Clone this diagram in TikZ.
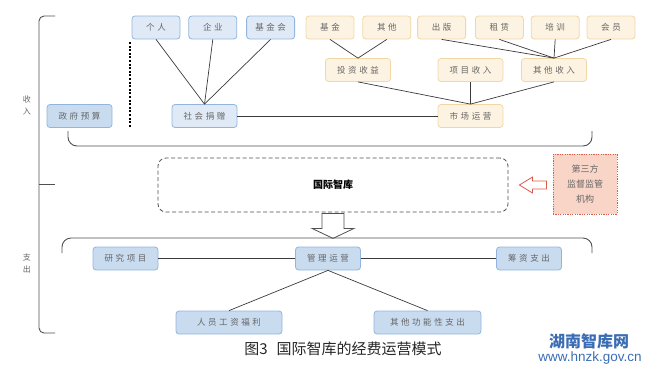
\documentclass[tikz,border=0pt]{standalone}
\usepackage{fontspec}
\setmainfont{Noto Sans CJK SC}
\newfontfamily\boxfont[LetterSpace=30]{Noto Sans CJK SC}
\newfontfamily\urlfont{Liberation Sans}
\usetikzlibrary{positioning,calc}

\definecolor{bluelight}{HTML}{DFEAF6}
\definecolor{bluemid}{HTML}{C8DBEF}
\definecolor{blueline}{HTML}{93B5DC}
\definecolor{orangefill}{HTML}{FDF3E2}
\definecolor{orangeline}{HTML}{F0D8A6}
\definecolor{redfill}{HTML}{F9D5C7}
\definecolor{redline}{HTML}{DD5A4A}
\definecolor{textgray}{HTML}{666666}
\definecolor{linegray}{HTML}{3A3A3A}
\definecolor{bracegray}{HTML}{505050}
\definecolor{markblue}{HTML}{3A6DB3}

\begin{document}
\begin{tikzpicture}[x=1pt, y=-1pt,
  ibox/.style={draw=blueline, fill=bluelight, rounded corners=3pt, minimum width=48pt, minimum height=23pt, inner sep=1pt, line width=0.8pt, text=textgray, font=\boxfont\fontsize{8.5}{10}\selectfont},
  ebox/.style={ibox, fill=bluemid},
  obox/.style={ibox, draw=orangeline, fill=orangefill},
  wide/.style={minimum width=65pt},
  link/.style={draw=linegray, line width=0.7pt},
  brace/.style={draw=bracegray, line width=0.9pt, rounded corners=9pt},
  hollow/.style={line width=0.8pt, fill=white, line join=miter},
  side/.style={text=textgray, align=center, font=\fontsize{8}{12}\selectfont},
]
\useasboundingbox (0,0) rectangle (650,368);

% income
\node[ibox] (geren) at (156,27.5) {个人};
\node[ibox, right=8pt of geren] (qiye) {企业};
\node[ibox, right=9pt of qiye] (jjh) {基金会};
\node[obox] (jijin) at (330,27.5) {基金};
\node[obox, right=8pt of jijin] (qita) {其他};
\node[obox, right=6pt of qita] (chuban) {出版};
\node[obox, right=9pt of chuban] (zulin) {租赁};
\node[obox, right=7pt of zulin] (peixun) {培训};
\node[obox, right=7pt of peixun] (huiyuan) {会员};
\node[obox, wide] (touzi) at (358,70) {投资收益};
\node[obox, wide] (xiangmu) at (470.5,70) {项目收入};
\node[obox, wide] (qitasr) at (554,70) {其他收入};
\node[obox, wide] (shichang) at (470.5,116) {市场运营};
\node[ibox, wide] (shehui) at (204.5,116) {社会捐赠};
\node[ebox, wide] (zhengfu) at (79.5,116) {政府预算};

\foreach \n in {geren,qiye,jjh} \draw[link] (\n.south) -- (shehui.north);
\foreach \n in {jijin,qita} \draw[link] (\n.south) -- (touzi.north);
\foreach \n in {chuban,zulin,peixun,huiyuan} \draw[link] (\n.south) -- (qitasr.north);
\foreach \n in {touzi,xiangmu,qitasr} \draw[link] (\n.south) -- (shichang.north);
\draw[link] (shehui) -- (shichang);
\draw[black, line width=1.1pt, dash pattern=on 2pt off 1.6pt] (130,42) -- (130,128);

\draw[brace] (68,131) |- (330,146) -| (592,131);

% think tank
\node[draw=bracegray, line width=0.8pt, dash pattern=on 4pt off 2.5pt, rounded corners=8pt, minimum width=350pt, minimum height=54pt, font=\bfseries\fontsize{10}{12}\selectfont] (zhiku) at (333,185) {国际智库};
\node[draw=redline, fill=redfill, line width=0.9pt, dash pattern=on 1.2pt off 1.2pt, minimum width=64pt, minimum height=60pt, inner sep=1pt, side, font=\fontsize{9}{15}\selectfont] (jiandu) at (585,184) {第三方\\监督监管\\机构};

\draw[hollow, draw=redline] ($(jiandu.west)+(-6,-3)$) -- ++(-14,0) -- ++(0,-4) -- ($(zhiku.east)+(11,0)$)
  -- ($(jiandu.west)+(-20,9)$) -- ++(0,-4) -- ++(14,0) -- cycle;
\draw[hollow, draw=bracegray] ($(zhiku.south)+(-11,1)$) -- ++(0,15) -- ++(-10,0) -- ($(zhiku.south)+(0,26)$)
  -- ($(zhiku.south)+(21,16)$) -- ++(-10,0) -- ++(0,-15) -- cycle;

% expenditure
\draw[brace] (62,253) |- (330,238) -| (592,253);

\node[ebox, wide] (yanjiu) at (125.5,258.5) {研究项目};
\node[ebox, wide] (guanli) at (328,258.5) {管理运营};
\node[ebox, wide] (chouzi) at (529,258.5) {筹资支出};
\node[ebox, minimum width=106pt] (renyuan) at (229,322.5) {人员工资福利};
\node[ebox, minimum width=107pt] (gongneng) at (427.5,322.5) {其他功能性支出};

\draw[link] (yanjiu) -- (guanli);
\draw[link] (guanli) -- (chouzi);
\draw[link] (guanli.south) -- (renyuan.north);
\draw[link] (guanli.south) -- (gongneng.north);

% outer bracket
\draw[brace, rounded corners=5pt] (55,16) -| (39,184) |- (55,333);
\draw[brace] (39,184) -- (55,184);
\node[side] (shouru) at (27,105) {收\\入};
\node[side] (zhichu) at (27,263) {支\\出};

\node[text=black!85, font=\fontsize{15}{16}\selectfont] (caption) at (343,349) {图3\hspace{9pt}国际智库的经费运营模式};
\node[text=markblue, font=\bfseries\fontsize{16}{16}\selectfont] (mark) at (589,341) {湖南智库网};
\node[text=markblue, font=\urlfont\fontsize{13.5}{14}\selectfont] (url) at (590,358) {www.hnzk.gov.cn};
\end{tikzpicture}
\end{document}
